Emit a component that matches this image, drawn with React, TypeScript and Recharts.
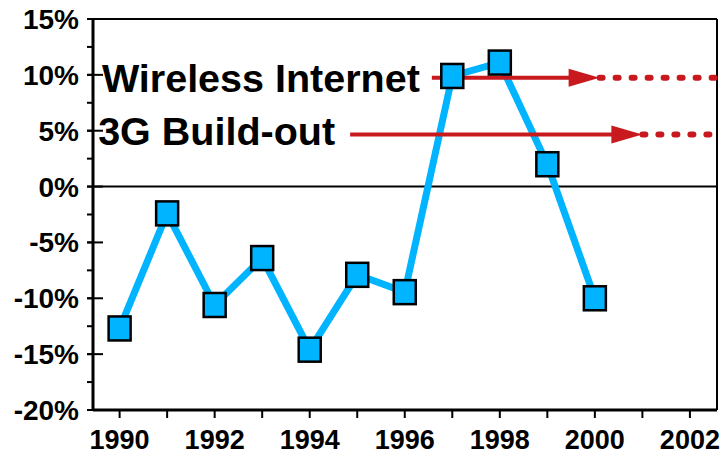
import React from "react";
import {
  LineChart,
  Line,
  XAxis,
  YAxis,
  ReferenceLine,
} from "recharts";

// Annual growth, 1990-2000
const years = [1990, 1991, 1992, 1993, 1994, 1995, 1996, 1997, 1998, 1999, 2000];
const growth = [-12.7, -2.4, -10.6, -6.4, -14.6, -7.9, -9.45, 9.9, 11.1, 2.0, -10.0];

const xTicks = [1990, 1991, 1992, 1993, 1994, 1995, 1996, 1997, 1998, 1999, 2000, 2001, 2002];
const yTicks = [-20, -17.5, -15, -12.5, -10, -7.5, -5, -2.5, 0, 2.5, 5, 7.5, 10, 12.5, 15];

// Arrow annotations
const arrowLabels = ["Wireless Internet", "3G Build-out"];
const arrowLevels = [9.75, 4.65];
const arrowStarts = [1996.57, 1994.85];
const arrowEnds = [2000.1, 2001.0];

const X_MIN = 1989.44;
const X_MAX = 2002.57;

const BLUE = "#00B4FF";
const RED = "#C8191E";
const FONT = "'Liberation Sans', Arial, sans-serif";

const data = years.map((year, i) => ({ year, value: growth[i] }));

const labelGaps = [12, 15];
const labelDrops = [14, 10];

const SquareDot = (props: any) => {
  const { cx, cy } = props;
  if (cx == null || cy == null) return null;
  return (
    <rect
      x={cx - 11}
      y={cy - 12}
      width={22}
      height={24}
      fill={BLUE}
      stroke="#000"
      strokeWidth={2.5}
    />
  );
};

// y labels; labelled ticks cross the axis line
const YTick = (props: any) => {
  const { x, y, payload } = props;
  const v = payload.value;
  if (v % 5 !== 0) return null;
  const axisX = x + 14;
  return (
    <g>
      <line x1={axisX - 6} y1={y} x2={axisX + 10} y2={y} stroke="#000" strokeWidth={2} />
      <text
        x={x}
        y={y}
        dy="0.355em"
        textAnchor="end"
        fontFamily={FONT}
        fontWeight="bold"
        fontSize={28}
        fill="#000"
      >
        {`${v}%`}
      </text>
    </g>
  );
};

// Solid arrow with its text label to the left
const makeArrow = (i: number) => (props: any) => {
  const { x1, y1, x2 } = props;
  if (x1 == null) return null;
  const head = 31;
  return (
    <g>
      <text
        x={x1 - labelGaps[i]}
        y={y1 + labelDrops[i]}
        textAnchor="end"
        fontFamily={FONT}
        fontWeight="bold"
        fontSize={39.5}
        fill="#000"
      >
        {arrowLabels[i]}
      </text>
      <line x1={x1} y1={y1} x2={x2 - head + 2} y2={y1} stroke={RED} strokeWidth={4} />
      <polygon
        points={`${x2 - head},${y1 - 9} ${x2},${y1} ${x2 - head},${y1 + 9}`}
        fill={RED}
      />
    </g>
  );
};

export default function App() {
  return (
    <div style={{ position: "absolute", left: 0, top: 0, width: 725, height: 456, background: "#fff" }}>
      <LineChart
        width={725}
        height={456}
        data={data}
        margin={{ top: 19, right: 8, left: 0, bottom: 0 }}
      >
        <XAxis
          dataKey="year"
          type="number"
          domain={[X_MIN, X_MAX]}
          allowDataOverflow
          ticks={xTicks}
          interval={0}
          tickFormatter={(v) => (v % 2 === 0 ? String(v) : "")}
          height={46}
          tickSize={8}
          tickMargin={12}
          axisLine={{ stroke: "#000", strokeWidth: 3 }}
          tickLine={{ stroke: "#000", strokeWidth: 2 }}
          tick={{ fontSize: 27, fontWeight: "bold", fill: "#000", fontFamily: FONT }}
        />
        <YAxis
          type="number"
          domain={[-20, 15]}
          allowDataOverflow
          ticks={yTicks}
          interval={0}
          width={93}
          tickSize={6}
          tickMargin={8}
          axisLine={{ stroke: "#000", strokeWidth: 3 }}
          tickLine={{ stroke: "#000", strokeWidth: 2 }}
          tick={<YTick />}
        />

        {/* frame and zero line */}
        <ReferenceLine y={15} stroke="#000" strokeWidth={2} />
        <ReferenceLine x={X_MAX} stroke="#000" strokeWidth={2} />
        <ReferenceLine y={0} stroke="#000" strokeWidth={2} />

        <Line
          type="linear"
          dataKey="value"
          stroke={BLUE}
          strokeWidth={7}
          dot={<SquareDot />}
          activeDot={false}
          isAnimationActive={false}
        />

        {arrowLabels.map((label, i) => (
          <ReferenceLine
            key={label}
            segment={[
              { x: arrowStarts[i], y: arrowLevels[i] },
              { x: arrowEnds[i], y: arrowLevels[i] },
            ]}
            shape={makeArrow(i)}
          />
        ))}
        {arrowLabels.map((label, i) => (
          <ReferenceLine
            key={label + "-dots"}
            segment={[
              { x: arrowEnds[i], y: arrowLevels[i] },
              { x: X_MAX, y: arrowLevels[i] },
            ]}
            stroke={RED}
            strokeWidth={6}
            strokeLinecap="round"
            strokeDasharray="3 13"
          />
        ))}
      </LineChart>
    </div>
  );
}
